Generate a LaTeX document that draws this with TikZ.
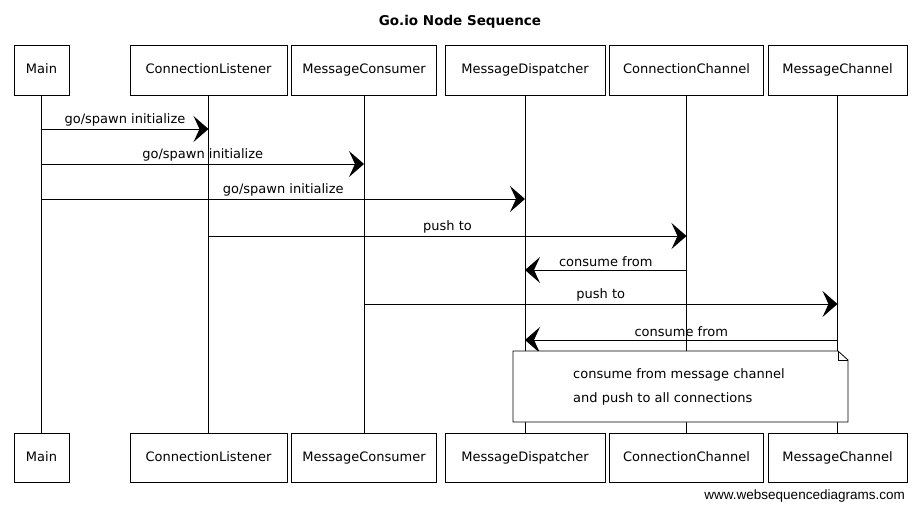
\documentclass[tikz,border=0pt]{standalone}
\usepackage{fontspec}
\setmainfont{DejaVu Sans}
\newfontfamily\wmfont{Liberation Sans}
\usetikzlibrary{arrows.meta}
\begin{document}
\begin{tikzpicture}[x=1pt,y=-1pt,
  part/.style={draw, line width=0.8pt, inner sep=0pt, text height=9.5pt, text depth=2.5pt, font=\fontsize{13}{15}\selectfont},
  life/.style={line width=0.7pt},
  msg/.style={line width=1pt, -{Stealth[length=15pt,width=26pt,inset=6pt]}},
  lbl/.style={font=\fontsize{13}{15}\selectfont, inner sep=1pt, above=1.5pt},
  notebox/.style={draw, fill=white, line width=0.8pt}
]
\useasboundingbox (0,0) rectangle (917,504);
\node (title) at (460,22) {\fontsize{13.5}{16}\selectfont\bfseries Go.io Node Sequence};
% top participants
\node[part, minimum width=55pt,  minimum height=50pt] (mainT) at (41.5,70)  {Main};
\node[part, minimum width=157pt, minimum height=50pt] (clT)   at (208.5,70) {ConnectionListener};
\node[part, minimum width=145pt, minimum height=50pt] (mcT)   at (364,70)   {MessageConsumer};
\node[part, minimum width=160pt, minimum height=50pt] (mdT)   at (525,70)   {MessageDispatcher};
\node[part, minimum width=154pt, minimum height=50pt] (ccT)   at (686.5,70) {ConnectionChannel};
\node[part, minimum width=139pt, minimum height=50pt] (mchT)  at (837.5,70) {MessageChannel};
% bottom participants
\node[part, minimum width=55pt,  minimum height=49pt] (mainB) at (41.5,457.5)  {Main};
\node[part, minimum width=157pt, minimum height=49pt] (clB)   at (208.5,457.5) {ConnectionListener};
\node[part, minimum width=145pt, minimum height=49pt] (mcB)   at (364,457.5)   {MessageConsumer};
\node[part, minimum width=160pt, minimum height=49pt] (mdB)   at (525,457.5)   {MessageDispatcher};
\node[part, minimum width=154pt, minimum height=49pt] (ccB)   at (686.5,457.5) {ConnectionChannel};
\node[part, minimum width=139pt, minimum height=49pt] (mchB)  at (837.5,457.5) {MessageChannel};
% lifelines
\draw[life] (mainT) -- (mainB);
\draw[life] (clT) -- (clB);
\draw[life] (mcT) -- (mcB);
\draw[life] (mdT) -- (mdB);
\draw[life] (ccT) -- (ccB);
\draw[life] (mchT) -- (mchB);
% message rows
\coordinate (r1) at (0,129);
\coordinate (r2) at (0,164);
\coordinate (r3) at (0,199);
\coordinate (r4) at (0,236);
\coordinate (r5) at (0,270);
\coordinate (r6) at (0,304);
\coordinate (r7) at (0,340);
\draw[msg] (mainT.south |- r1) -- node[lbl] {go/spawn initialize} (clT.south |- r1);
\draw[msg] (mainT.south |- r2) -- node[lbl] {go/spawn initialize} (mcT.south |- r2);
\draw[msg] (mainT.south |- r3) -- node[lbl] {go/spawn initialize} (mdT.south |- r3);
\draw[msg] (clT.south |- r4) -- node[lbl] {push to} (ccT.south |- r4);
\draw[msg] (ccT.south |- r5) -- node[lbl] {consume from} (mdT.south |- r5);
\draw[msg] (mcT.south |- r6) -- node[lbl] {push to} (mchT.south |- r6);
\draw[msg] (mchT.south |- r7) -- node[lbl] {consume from} (mdT.south |- r7);
% note
\coordinate (nA) at (513,351);
\coordinate (nB) at (838,351);
\coordinate (nC) at (848,360);
\coordinate (nD) at (848,422);
\coordinate (nE) at (513,422);
\draw[notebox] (nA) -- (nB) -- (nC) -- (nD) -- (nE) -- cycle;
\draw[line width=0.6pt] (nB) -- (838,360) -- (nC);
\node[anchor=west, align=left, inner sep=0pt, font=\fontsize{13}{24}\selectfont] (notetext) at (573,387)
  {consume from message channel\\and push to all connections};
% watermark
\node[anchor=east, inner sep=0pt, font=\wmfont\fontsize{13.5}{16}\selectfont] (wm) at (905,496) {www.websequencediagrams.com};
\end{tikzpicture}
\end{document}
